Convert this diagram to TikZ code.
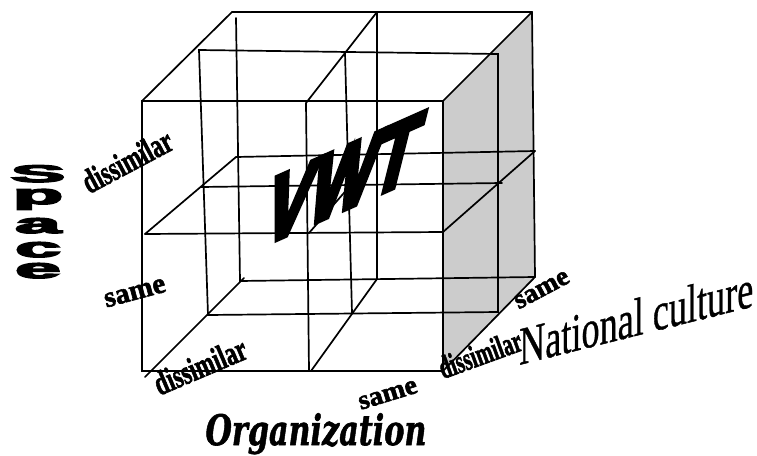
\documentclass[tikz,border=0pt]{standalone}
\usepackage{fontspec}
\setmainfont{Liberation Serif}
\newfontfamily\fatsans{Liberation Sans Bold}[FakeBold=5]
\newfontfamily\vwtsans{Liberation Sans Bold}[FakeBold=7]
\newfontfamily\fatserif{Liberation Serif Bold}[FakeBold=2]
\newfontfamily\ncserif{Liberation Serif}[FakeBold=0.8]
\newfontfamily\orgserif{DejaVu Serif Bold Italic}[FakeBold=1.5]
\definecolor{facegray}{RGB}{204,204,204}
\begin{document}
\begin{tikzpicture}[x=1pt,y=-1pt,
  edge/.style={draw=black,line width=1.7pt,line cap=round,line join=miter},
  axlbl/.style={inner sep=0pt,font=\fatserif\fontsize{34}{34}\selectfont},
  spc/.style={inner sep=0pt,anchor=base,font=\fatsans\fontsize{24}{24}\selectfont}]
\useasboundingbox (0,0) rectangle (757,455);
% corners
\coordinate (F1) at (142,101); \coordinate (F2) at (443,101);
\coordinate (F3) at (443,371); \coordinate (F4) at (142,371);
\coordinate (B1) at (232,12);  \coordinate (B2) at (532,12);
\coordinate (B3) at (535,277); \coordinate (B4) at (240,281);
\coordinate (B1a) at (236,18);
% mid plane
\coordinate (M1) at (199,50);  \coordinate (M2) at (498,54);
\coordinate (M3) at (498,312); \coordinate (M4) at (208,315);
\coordinate (MLm) at (201,187); \coordinate (MRm) at (502,183);
\coordinate (MTm) at (345,53); \coordinate (MBm) at (352,313);
% back middle
\coordinate (BLm) at (236,157); \coordinate (BRm) at (535,151);
\coordinate (BTm) at (377,12); \coordinate (BBm) at (377,279);
% front middle
\coordinate (FLm) at (145,234); \coordinate (FRm) at (443,232);
\coordinate (FTm) at (306,103); \coordinate (FBm) at (309,371);
\coordinate (FC) at (309,233); \coordinate (BC) at (377,155);
% bottom diagonals
\coordinate (DLa) at (244,278); \coordinate (DLb) at (145,377);
\coordinate (DMb) at (311,371);

\fill[facegray] (F2) -- (B2) -- (B3) -- (F3) -- cycle;

% back face
\draw[edge] (B1) -- (B2);
\draw[edge] (B1a) -- (B4) -- (B3);
\draw[edge] (B2) -- (B3);
\draw[edge] (BLm) -- (BRm);
\draw[edge] (BTm) -- (BBm);
% mid plane
\draw[edge] (M1) -- (M2) -- (M3) -- (M4) -- cycle;
\draw[edge] (MLm) -- (MRm);
\draw[edge] (MTm) -- (MBm);
% depth lines
\draw[edge] (B1) -- (F1);
\draw[edge] (B2) -- (F2);
\draw[edge] (B3) -- (F3);
\draw[edge] (BTm) -- (FTm) -- (FBm);
\draw[edge] (BLm) -- (FLm);
\draw[edge] (BRm) -- (FRm);
\draw[edge] (BBm) -- (DMb);
\draw[edge] (DLa) -- (DLb);
\draw[edge] (FC) -- (BC);
% front face
\draw[edge] (F1) -- (F2) -- (F3) -- (F4) -- cycle;
\draw[edge] (FLm) -- (FRm);

% VWT
\node (vwt) at (343,179) [inner sep=0pt,xslant=0.25,yslant=0.5,
  font=\vwtsans\fontsize{100}{100}\selectfont] {\scalebox{0.6}[1]{VWT}};

% Space
\node[spc] (s1) at (38,182) {\scalebox{3.4}[1]{S}};
\node[spc] (s2) at (38,204) {\scalebox{3.4}[1.15]{p}};
\node[spc] (s3) at (38,233) {\scalebox{3.4}[1.15]{a}};
\node[spc] (s4) at (38,257) {\scalebox{3.4}[1.15]{c}};
\node[spc] (s5) at (38,278) {\scalebox{3.4}[1.15]{e}};

% axis value labels
\node[axlbl,rotate=28] (d1) at (127,161) {\scalebox{0.68}[1]{dissimilar}};
\node[axlbl,rotate=15] (s1l) at (135,293) {\scalebox{0.85}[0.85]{same}};
\node[axlbl,rotate=23] (d2) at (200,366) {\scalebox{0.68}[1]{dissimilar}};
\node[axlbl,rotate=17] (s2l) at (388,395) {\scalebox{0.82}[0.8]{same}};
\node[axlbl,rotate=20] (d3) at (480,354) {\scalebox{0.6}[0.95]{dissimilar}};
\node[axlbl,rotate=28] (s3l) at (542,290) {\scalebox{0.8}[0.8]{same}};

% axis names
\node[inner sep=0pt,anchor=base west,yslant=0.25,
  font=\ncserif\fontsize{54}{54}\selectfont] (nc) at (519,365) {\scalebox{0.67}[1]{National culture}};
\node[inner sep=0pt,anchor=base,
  font=\orgserif\fontsize{42}{42}\selectfont] (org) at (316,445) {\scalebox{0.72}[1]{Organization}};
\end{tikzpicture}
\end{document}
